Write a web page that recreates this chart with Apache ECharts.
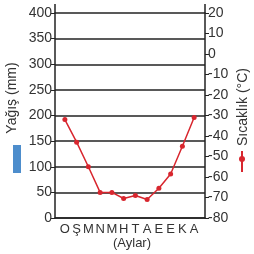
<!DOCTYPE html>
<html>
<head>
<meta charset="utf-8">
<script src="https://cdn.jsdelivr.net/npm/echarts@6/dist/echarts.min.js"></script>
<style>
  html, body { margin: 0; padding: 0; background: #fff; }
  #chart { width: 254px; height: 254px; }
</style>
</head>
<body>
<div id="chart"></div>
<script>
const months = ['O', 'Ş', 'M', 'N', 'M', 'H', 'T', 'A', 'E', 'E', 'K', 'A']
// yağış neredeyse yok, grafikte çubuk görünmüyor
const yagis = [0, 0, 0, 0, 0, 0, 0, 0, 0, 0, 0, 0]
const sicaklik = [-32, -43, -55, -67.5, -67.5, -70.5, -69, -71, -65.5, -58.5, -45, -31]
const yagisTicks = [0, 400, 50]
const sicaklikTicks = [-80, 20, 10]

const font = 'Liberation Sans, Arial, sans-serif'
const ink = '#222'
const red = '#d8262e'
const blue = '#4d8dcc'

const chart = echarts.init(document.getElementById('chart'), null, { renderer: 'canvas' })

const option = {
  animation: false,
  textStyle: { fontFamily: font },
  grid: [
    { left: 55, right: 49, top: 13, bottom: 36 },
    { left: 59, right: 54, top: 13, bottom: 36 }
  ],
  xAxis: [{
    type: 'category',
    gridIndex: 0,
    data: months,
    axisLine: { lineStyle: { color: ink, width: 1.5 } },
    axisTick: { show: false },
    axisLabel: { show: false }
  }, {
    type: 'category',
    gridIndex: 1,
    data: months,
    axisLine: { show: false },
    axisTick: { show: false },
    axisLabel: { color: '#333', fontSize: 13, margin: 5, interval: 0, fontFamily: font }
  }],
  yAxis: [{
    type: 'value',
    gridIndex: 0,
    min: yagisTicks[0],
    max: yagisTicks[1],
    interval: yagisTicks[2],
    axisLine: { show: true, lineStyle: { color: ink, width: 1.5 } },
    axisTick: { show: true, length: 4, lineStyle: { color: ink } },
    splitLine: { lineStyle: { color: ink, width: 1.5 } },
    axisLabel: { color: '#333', fontSize: 14, margin: 3, fontFamily: font }
  }, {
    type: 'value',
    gridIndex: 0,
    position: 'right',
    min: sicaklikTicks[0],
    max: sicaklikTicks[1],
    interval: sicaklikTicks[2],
    axisLine: { show: true, lineStyle: { color: ink, width: 1.5 } },
    axisTick: { show: true, length: 4, lineStyle: { color: ink } },
    splitLine: { show: false },
    axisLabel: { color: '#333', fontSize: 14, margin: 3, fontFamily: font }
  }, {
    type: 'value',
    gridIndex: 1,
    min: sicaklikTicks[0],
    max: sicaklikTicks[1],
    show: false
  }],
  series: [{
    name: 'Yağış',
    type: 'bar',
    xAxisIndex: 0,
    yAxisIndex: 0,
    data: yagis,
    itemStyle: { color: blue }
  }, {
    name: 'Sıcaklık',
    type: 'line',
    xAxisIndex: 1,
    yAxisIndex: 2,
    data: sicaklik,
    symbol: 'circle',
    symbolSize: 5,
    lineStyle: { color: red, width: 1.5 },
    itemStyle: { color: red },
    z: 5
  }],
  graphic: [
    // eksen çizgileri 400'ün biraz üstüne uzanıyor
    { type: 'line', shape: { x1: 55, y1: 4, x2: 55, y2: 13 }, style: { stroke: ink, lineWidth: 1.5 } },
    { type: 'line', shape: { x1: 205, y1: 4, x2: 205, y2: 13 }, style: { stroke: ink, lineWidth: 1.5 } },
    { type: 'text', x: 12, y: 98, rotation: Math.PI / 2,
      style: { text: 'Yağış (mm)', fill: '#333', font: '14px ' + font, align: 'center', verticalAlign: 'middle' } },
    { type: 'rect', shape: { x: 13, y: 145, width: 8, height: 28 }, style: { fill: blue } },
    { type: 'text', x: 243, y: 107, rotation: Math.PI / 2,
      style: { text: 'Sıcaklık (°C)', fill: '#333', font: '14px ' + font, align: 'center', verticalAlign: 'middle' } },
    { type: 'line', shape: { x1: 242, y1: 151, x2: 242, y2: 172 }, style: { stroke: red, lineWidth: 2 } },
    { type: 'circle', shape: { cx: 242, cy: 159, r: 3 }, style: { fill: red } },
    { type: 'text', x: 132, y: 243,
      style: { text: '(Aylar)', fill: '#333', font: '13px ' + font, align: 'center', verticalAlign: 'middle' } }
  ]
}

chart.setOption(option)
</script>
</body>
</html>
